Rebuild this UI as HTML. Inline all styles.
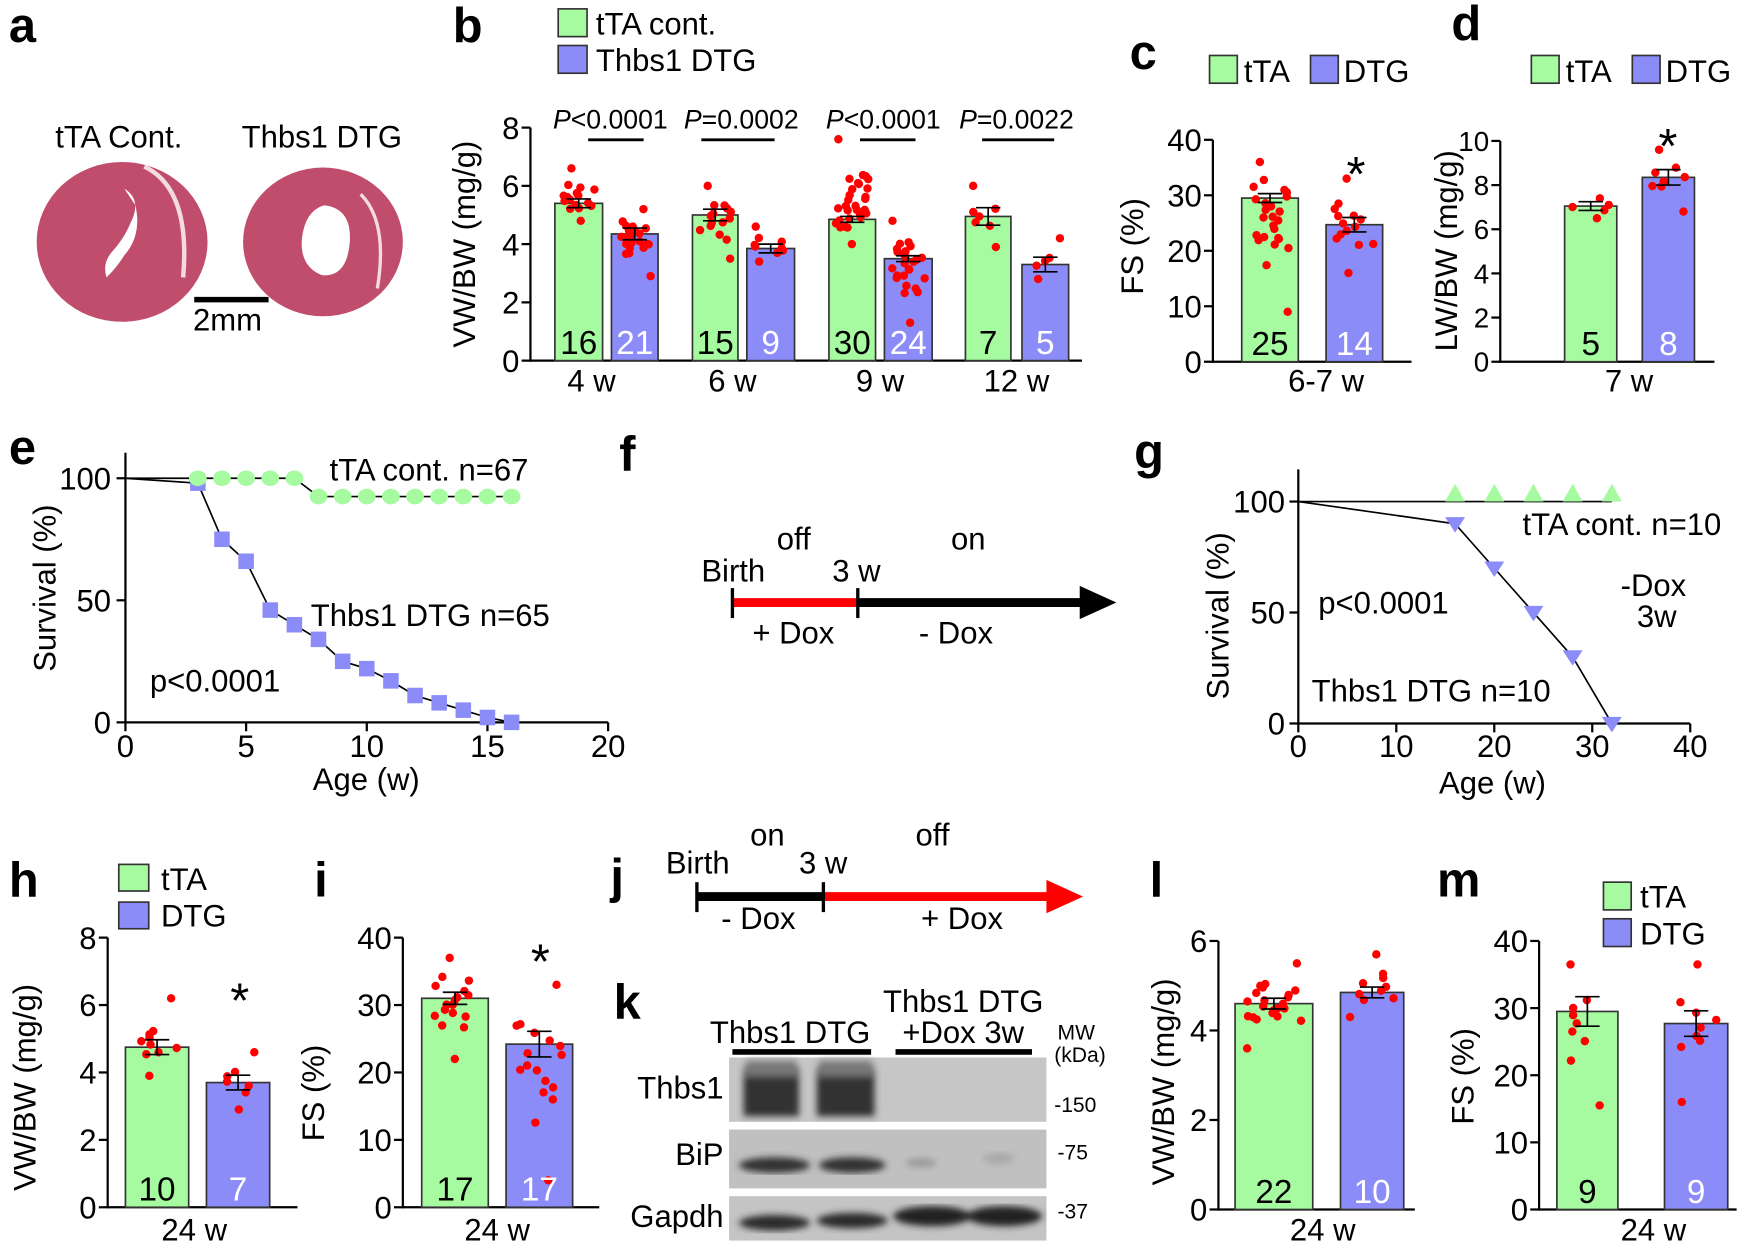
<!DOCTYPE html>
<html><head><meta charset="utf-8"><style>
html,body{margin:0;padding:0;background:#fff}
svg{display:block}
text{font-family:"Liberation Sans",Arial,sans-serif;fill:#000}
.t{font-size:28px}
.L{font-size:44px;font-weight:bold}
.ax{stroke:#000;stroke-width:2;fill:none}
.g{fill:#a6fba0;stroke:#333;stroke-width:1.5}
.b{fill:#8c8cf8;stroke:#333;stroke-width:1.5}
</style></head><body>
<svg id="s" width="1740" height="1245" viewBox="0 0 1568 1122" xmlns="http://www.w3.org/2000/svg">
<text class="L" x="8" y="38">a</text>
<text class="L" x="408" y="38">b</text>
<text class="L" x="1018" y="62">c</text>
<text class="L" x="1308" y="36">d</text>
<text class="L" x="8" y="418">e</text>
<text class="L" x="558" y="424">f</text>
<text class="L" x="1022" y="422">g</text>
<text class="L" x="8" y="808">h</text>
<text class="L" x="283" y="808">i</text>
<text class="L" x="550" y="805">j</text>
<text class="L" x="553" y="918">k</text>
<text class="L" x="1036" y="808">l</text>
<text class="L" x="1295" y="808">m</text>

<text class="t" x="107" y="133" text-anchor="middle">tTA Cont.</text>
<text class="t" x="290" y="133" text-anchor="middle">Thbs1 DTG</text>
<ellipse cx="110" cy="218" rx="77" ry="72" fill="#c04d6c"/>
<path d="M112 170 Q128 180 118 200 Q112 215 100 228 Q92 238 96 250 Q106 240 112 230 Q128 212 122 185 Z" fill="#fff"/>
<path d="M130 150 Q172 170 165 250" stroke="#f4dbe0" stroke-width="4" fill="none"/>
<ellipse cx="291" cy="218" rx="72" ry="67" fill="#c04d6c"/>
<path d="M292 185 Q318 188 315 220 Q312 250 290 248 Q270 240 272 215 Q275 190 292 185 Z" fill="#fff"/>
<path d="M325 175 Q350 200 340 260" stroke="#f4dbe0" stroke-width="3" fill="none"/>
<line x1="175" y1="270" x2="242" y2="270" stroke="#000" stroke-width="5"/>
<text class="t" x="205" y="298" text-anchor="middle">2mm</text>

<rect x="503" y="8" width="26" height="25" class="g"/><text class="t" x="537" y="31">tTA cont.</text>
<rect x="503" y="41" width="26" height="25" class="b"/><text class="t" x="537" y="64">Thbs1 DTG</text>

<rect x="1090" y="50" width="25" height="25" class="g"/><text class="t" x="1121" y="74">tTA</text>
<rect x="1181" y="50" width="25" height="25" class="b"/><text class="t" x="1211" y="74">DTG</text>
<rect x="1380" y="50" width="25" height="25" class="g"/><text class="t" x="1411" y="74">tTA</text>
<rect x="1471" y="50" width="25" height="25" class="b"/><text class="t" x="1501" y="74">DTG</text>
<rect x="107" y="779" width="27" height="24" class="g"/><text class="t" x="145" y="802">tTA</text>
<rect x="107" y="813" width="27" height="24" class="b"/><text class="t" x="145" y="835">DTG</text>
<rect x="1445" y="795" width="25" height="25" class="g"/><text class="t" x="1478" y="818">tTA</text>
<rect x="1445" y="828" width="25" height="25" class="b"/><text class="t" x="1478" y="851">DTG</text>

<g id="bars"></g>

<g>
<line class="ax" x1="113" y1="408" x2="113" y2="652"/>
<line class="ax" x1="113" y1="651" x2="548" y2="651"/>
<line class="ax" x1="105" y1="431" x2="113" y2="431"/>
<line class="ax" x1="105" y1="541" x2="113" y2="541"/>
<line class="ax" x1="105" y1="651" x2="113" y2="651"/>
<text class="t" x="100" y="441" text-anchor="end">100</text>
<text class="t" x="100" y="551" text-anchor="end">50</text>
<text class="t" x="100" y="661" text-anchor="end">0</text>
<text class="t" transform="translate(50 530) rotate(-90)" text-anchor="middle">Survival (%)</text>
<text class="t" x="330" y="712" text-anchor="middle">Age (w)</text>
<text class="t" x="297" y="433">tTA cont. n=67</text>
<text class="t" x="280" y="564">Thbs1 DTG n=65</text>
<text class="t" x="135" y="623">p&lt;0.0001</text>
<g id="pe"></g>
</g>

<text class="t" x="632" y="524">Birth</text>
<text class="t" x="750" y="524">3 w</text>
<text class="t" x="700" y="495">off</text>
<text class="t" x="857" y="495">on</text>
<text class="t" x="678" y="580">+ Dox</text>
<text class="t" x="828" y="580">- Dox</text>
<line x1="660" y1="543" x2="773" y2="543" stroke="#f00" stroke-width="8"/>
<line x1="773" y1="543" x2="975" y2="543" stroke="#000" stroke-width="8"/>
<polygon points="973,528 1006,543 973,558" fill="#000"/>
<line x1="660" y1="530" x2="660" y2="557" stroke="#000" stroke-width="3"/>
<line x1="773" y1="530" x2="773" y2="557" stroke="#000" stroke-width="3"/>

<g>
<line class="ax" x1="1170" y1="423" x2="1170" y2="652"/>
<line class="ax" x1="1170" y1="652" x2="1523" y2="652"/>
<line class="ax" x1="1162" y1="452" x2="1170" y2="452"/>
<line class="ax" x1="1162" y1="552" x2="1170" y2="552"/>
<line class="ax" x1="1162" y1="652" x2="1170" y2="652"/>
<text class="t" x="1158" y="462" text-anchor="end">100</text>
<text class="t" x="1158" y="562" text-anchor="end">50</text>
<text class="t" x="1158" y="662" text-anchor="end">0</text>
<text class="t" transform="translate(1107 555) rotate(-90)" text-anchor="middle">Survival (%)</text>
<text class="t" x="1345" y="715" text-anchor="middle">Age (w)</text>
<text class="t" x="1372" y="482">tTA cont. n=10</text>
<text class="t" x="1188" y="553">p&lt;0.0001</text>
<text class="t" x="1490" y="537" text-anchor="middle">-Dox</text>
<text class="t" x="1493" y="565" text-anchor="middle">3w</text>
<text class="t" x="1182" y="632">Thbs1 DTG n=10</text>
<g id="pg"></g>
</g>

<text class="t" x="600" y="787">Birth</text>
<text class="t" x="720" y="787">3 w</text>
<text class="t" x="676" y="762">on</text>
<text class="t" x="825" y="762">off</text>
<text class="t" x="650" y="837">- Dox</text>
<text class="t" x="830" y="837">+ Dox</text>
<line x1="628" y1="808" x2="742" y2="808" stroke="#000" stroke-width="8"/>
<line x1="742" y1="808" x2="945" y2="808" stroke="#f00" stroke-width="8"/>
<polygon points="943,793 976,808 943,823" fill="#f00"/>
<line x1="628" y1="795" x2="628" y2="822" stroke="#000" stroke-width="3"/>
<line x1="742" y1="795" x2="742" y2="822" stroke="#000" stroke-width="3"/>

<text class="t" x="712" y="940" text-anchor="middle">Thbs1 DTG</text>
<line x1="660" y1="948" x2="785" y2="948" stroke="#000" stroke-width="5"/>
<text class="t" x="868" y="912" text-anchor="middle">Thbs1 DTG</text>
<text class="t" x="868" y="940" text-anchor="middle">+Dox 3w</text>
<line x1="807" y1="948" x2="930" y2="948" stroke="#000" stroke-width="5"/>
<text x="953" y="937" style="font-size:19px">MW</text>
<text x="950" y="957" style="font-size:19px">(kDa)</text>
<text class="t" x="652" y="990" text-anchor="end">Thbs1</text>
<text class="t" x="652" y="1050" text-anchor="end">BiP</text>
<text class="t" x="652" y="1106" text-anchor="end">Gapdh</text>
<text x="950" y="1002" style="font-size:19px">-150</text>
<text x="953" y="1045" style="font-size:19px">-75</text>
<text x="953" y="1098" style="font-size:19px">-37</text>
<defs><filter id="bl"><feGaussianBlur stdDeviation="3"/></filter></defs>
<rect x="657" y="953" width="286" height="58" fill="#c6c6c6"/>
<g filter="url(#bl)">
<rect x="670" y="962" width="50" height="44" fill="#333"/>
<rect x="736" y="962" width="52" height="44" fill="#333"/>
<rect x="672" y="956" width="46" height="14" fill="#777"/>
<rect x="738" y="956" width="48" height="14" fill="#777"/>
</g>
<rect x="657" y="1018" width="286" height="53" fill="#c0c0c0"/>
<g filter="url(#bl)">
<ellipse cx="698" cy="1050" rx="32" ry="7" fill="#333"/>
<ellipse cx="768" cy="1050" rx="30" ry="7" fill="#333"/>
<ellipse cx="830" cy="1048" rx="14" ry="4" fill="#999"/>
<ellipse cx="900" cy="1044" rx="14" ry="5" fill="#a8a8a8"/>
</g>
<rect x="657" y="1078" width="286" height="40" fill="#c4c4c4"/>
<g filter="url(#bl)">
<ellipse cx="698" cy="1102" rx="32" ry="7" fill="#2a2a2a"/>
<ellipse cx="768" cy="1100" rx="32" ry="7" fill="#2a2a2a"/>
<ellipse cx="840" cy="1096" rx="35" ry="9" fill="#222"/>
<ellipse cx="905" cy="1096" rx="34" ry="9" fill="#222"/>
</g>
</svg>
<script>
var NS="http://www.w3.org/2000/svg";
function el(p,t,a,txt){var e=document.createElementNS(NS,t);for(var k in a)e.setAttribute(k,a[k]);if(txt!==undefined)e.textContent=txt;p.appendChild(e);return e;}
var root=document.getElementById('bars');
var seed=7;function rnd(){seed=(seed*9301+49297)%233280;return seed/233280;}
function axis(o){
 var g=root;var fs=o.fs||28;
 el(g,'line',{class:'ax',x1:o.x,y1:o.y0+1,x2:o.x,y2:o.yt});
 el(g,'line',{class:'ax',x1:o.x,y1:o.y0,x2:o.xe,y2:o.y0});
 for(var v=0;v<=o.max+1e-9;v+=o.step){var y=o.y0-(o.y0-o.yt)*v/o.max;
  el(g,'line',{class:'ax',x1:o.x-8,y1:y,x2:o.x,y2:y});
  el(g,'text',{x:o.x-10,y:y+fs*0.36,'text-anchor':'end',style:'font-size:'+fs+'px'},String(v));}
 el(g,'text',{class:'t',transform:'translate('+o.lx+' '+o.ly+') rotate(-90)','text-anchor':'middle'},o.label);
}
function bar(o,x1,x2,mean,sem,n,lo,hi,cls){
 var sc=(o.y0-o.yt)/o.max;var yt=o.y0-mean*sc;
 el(root,'rect',{x:x1,y:yt,width:x2-x1,height:o.y0-yt,class:cls});
 var cx=(x1+x2)/2;
 for(var i=0;i<n;i++){var v=lo+(hi-lo)*((i+0.5)/n);v=mean+(v-mean)*(0.4+0.3*rnd());
  if(i==n-1)v=hi; if(i==0)v=lo;
  var dx=(rnd()-0.5)*(x2-x1)*0.7;
  el(root,'circle',{cx:cx+dx,cy:o.y0-v*sc,r:3.8,fill:'#f00'});}
 var a=o.y0-(mean+sem)*sc,b=o.y0-(mean-sem)*sc;
 el(root,'line',{x1:cx,y1:a,x2:cx,y2:b,stroke:'#000','stroke-width':1.5});
 el(root,'line',{x1:cx-11,y1:a,x2:cx+11,y2:a,stroke:'#000','stroke-width':1.5});
 el(root,'line',{x1:cx-11,y1:b,x2:cx+11,y2:b,stroke:'#000','stroke-width':1.5});
 el(root,'text',{x:cx,y:o.y0-6,'text-anchor':'middle',style:'font-size:30px;fill:'+(cls=='g'?'#000':'#fff')},String(n));
}
function star(x,y){el(root,'text',{x:x,y:y,'text-anchor':'middle',style:'font-size:44px'},'*');}
var B={x:478,y0:325,yt:115,max:8,step:2,xe:975,label:'VW/BW (mg/g)',lx:428,ly:220};
axis(B);
bar(B,500,543,5.4,0.15,16,4.8,6.6,'g');bar(B,551,593,4.35,0.2,21,2.9,5.2,'b');
bar(B,624,665,5.0,0.2,15,3.5,6.0,'g');bar(B,673,716,3.85,0.15,9,3.4,4.6,'b');
bar(B,747,789,4.85,0.1,30,4.0,7.6,'g');bar(B,797,840,3.5,0.1,24,1.3,4.8,'b');
bar(B,870,911,4.95,0.3,7,3.9,6.0,'g');bar(B,921,963,3.3,0.25,5,2.8,4.2,'b');
[['4 w',533],['6 w',660],['9 w',793],['12 w',916]].forEach(function(a){el(root,'text',{class:'t',x:a[1],y:353,'text-anchor':'middle'},a[0]);});
[['<0.0001',550,530,580],['=0.0002',668,632,698],['<0.0001',796,775,825],['=0.0022',916,885,950]].forEach(function(a){
 var t=el(root,'text',{x:a[1],y:116,'text-anchor':'middle',style:'font-size:24px'});
 el(t,'tspan',{style:'font-style:italic'},'P');el(t,'tspan',{},a[0]);
 el(root,'line',{x1:a[2],y1:126,x2:a[3],y2:126,stroke:'#000','stroke-width':2.5});});
var C={x:1093,y0:326,yt:126,max:40,step:10,xe:1272,label:'FS (%)',lx:1030,ly:222};
axis(C);
bar(C,1119,1170,29.5,0.8,25,9,36,'g');bar(C,1195,1246,24.7,1.3,14,16,33,'b');
el(root,'text',{class:'t',x:1195,y:353,'text-anchor':'middle'},'6-7 w');
star(1222,172);
var D={x:1352,y0:326,yt:127,max:10,step:2,xe:1545,label:'LW/BW (mg/g)',lx:1313,ly:226,fs:25};
axis(D);
bar(D,1410,1457,7.05,0.2,5,6.5,7.4,'g');bar(D,1480,1527,8.35,0.35,8,6.8,9.6,'b');
el(root,'text',{class:'t',x:1468,y:353,'text-anchor':'middle'},'7 w');
star(1503,147);
var H={x:97,y0:1088,yt:845,max:8,step:2,xe:268,label:'VW/BW (mg/g)',lx:32,ly:980};
axis(H);
bar(H,113,170,4.75,0.22,10,3.9,6.2,'g');bar(H,186,243,3.7,0.22,7,2.9,4.6,'b');
el(root,'text',{class:'t',x:175,y:1118,'text-anchor':'middle'},'24 w');
star(216,917);
var I={x:363,y0:1088,yt:845,max:40,step:10,xe:540,label:'FS (%)',lx:292,ly:985};
axis(I);
bar(I,380,440,31,0.9,17,22,37,'g');bar(I,456,516,24.2,1.9,17,4,33,'b');
el(root,'text',{class:'t',x:448,y:1118,'text-anchor':'middle'},'24 w');
star(487,882);
var Lx={x:1098,y0:1090,yt:848,max:6,step:2,xe:1275,label:'VW/BW (mg/g)',lx:1058,ly:975};
axis(Lx);
bar(Lx,1113,1183,4.6,0.12,22,3.6,5.5,'g');bar(Lx,1208,1265,4.85,0.12,10,4.3,5.7,'b');
el(root,'text',{class:'t',x:1192,y:1118,'text-anchor':'middle'},'24 w');
var M={x:1387,y0:1090,yt:848,max:40,step:10,xe:1565,label:'FS (%)',lx:1328,ly:970};
axis(M);
bar(M,1403,1458,29.5,2.2,9,15.5,36.5,'g');bar(M,1500,1557,27.7,1.9,9,16,36.5,'b');
el(root,'text',{class:'t',x:1490,y:1118,'text-anchor':'middle'},'24 w');

var pe=document.getElementById('pe');
function ex(v){return 113+v*21.75;} function ey(v){return 651-v*2.2;}
[0,5,10,15,20].forEach(function(v){el(pe,'line',{class:'ax',x1:ex(v),y1:651,x2:ex(v),y2:659});el(pe,'text',{class:'t',x:ex(v),y:682,'text-anchor':'middle'},String(v));});
var gpts=[[0,100],[3,100],[4,100],[5,100],[6,100],[7,100],[8,92.5],[9,92.5],[10,92.5],[11,92.5],[12,92.5],[13,92.5],[14,92.5],[15,92.5],[16,92.5]];
var dpts=[[0,100],[3,98],[4,75],[5,66],[6,46],[7,40],[8,34],[9,25],[10,22],[11,17],[12,11],[13,8],[14,5],[15,2],[16,0]];
el(pe,'polyline',{points:dpts.map(function(p){return ex(p[0])+','+ey(p[1]);}).join(' '),fill:'none',stroke:'#000','stroke-width':1.5});
el(pe,'polyline',{points:gpts.map(function(p){return ex(p[0])+','+ey(p[1]);}).join(' '),fill:'none',stroke:'#000','stroke-width':1.5});
dpts.slice(1).forEach(function(p){el(pe,'rect',{x:ex(p[0])-7,y:ey(p[1])-7,width:14,height:14,fill:'#8c8cf8'});});
gpts.slice(1).forEach(function(p){el(pe,'ellipse',{cx:ex(p[0]),cy:ey(p[1]),rx:8,ry:7,fill:'#a6fba0'});});
var pg=document.getElementById('pg');
function gx(v){return 1170+v*8.83;} function gy(v){return 652-v*2;}
[0,10,20,30,40].forEach(function(v){el(pg,'line',{class:'ax',x1:gx(v),y1:652,x2:gx(v),y2:660});el(pg,'text',{class:'t',x:gx(v),y:682,'text-anchor':'middle'},String(v));});
el(pg,'line',{x1:gx(0),y1:gy(100),x2:gx(32),y2:gy(100),stroke:'#000','stroke-width':1.5});
var gd=[[0,100],[16,90],[20,70],[24,50],[28,30],[32,0]];
el(pg,'polyline',{points:gd.map(function(p){return gx(p[0])+','+gy(p[1]);}).join(' '),fill:'none',stroke:'#000','stroke-width':1.5});
[16,20,24,28,32].forEach(function(v){var x=gx(v),y=gy(100);el(pg,'polygon',{points:(x-9)+','+(y)+' '+(x+9)+','+y+' '+x+','+(y-16),fill:'#a6fba0'});});
gd.slice(1).forEach(function(p){var x=gx(p[0]),y=gy(p[1]);el(pg,'polygon',{points:(x-9)+','+(y-6)+' '+(x+9)+','+(y-6)+' '+x+','+(y+8),fill:'#8c8cf8'});});
</script>
</body></html>
